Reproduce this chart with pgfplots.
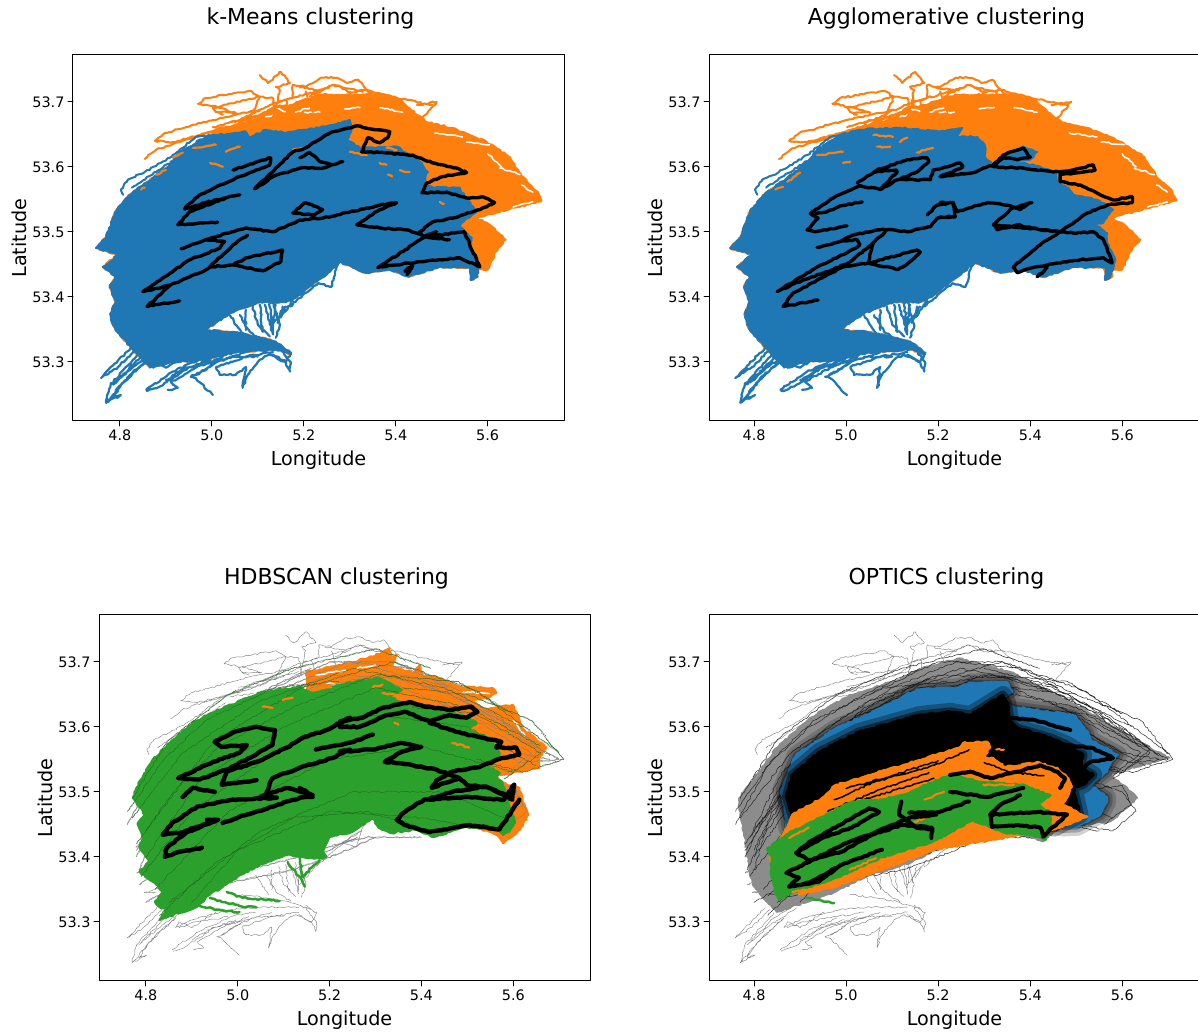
\documentclass[border=0pt]{standalone}
\usepackage{pgfplots}
\usepackage{pgfplotstable}
\usepackage{fontspec}
\setmainfont{DejaVu Sans}
\pgfplotsset{compat=1.18}
\usetikzlibrary{decorations.pathmorphing}
\definecolor{mblue}{HTML}{1F77B4}
\definecolor{morange}{HTML}{FF7F0E}
\definecolor{mgreen}{HTML}{2CA02C}
\pgfplotstableread[row sep=\\]{x y\\
4.748 53.475\\4.770 53.491\\4.791 53.531\\4.822 53.557\\4.872 53.583\\4.909 53.603\\4.937 53.622\\4.987 53.645\\5.039 53.661\\5.104 53.675\\5.133 53.691\\5.170 53.695\\5.237 53.711\\5.333 53.711\\5.365 53.711\\5.409 53.703\\5.446 53.680\\5.470 53.668\\5.522 53.660\\5.561 53.649\\5.598 53.638\\5.648 53.615\\5.674 53.585\\5.709 53.561\\5.717 53.548\\5.663 53.538\\5.598 53.526\\5.576 53.521\\5.598 53.514\\5.639 53.488\\5.617 53.469\\5.600 53.442\\5.578 53.442\\5.578 53.431\\5.563 53.426\\5.561 53.445\\5.494 53.446\\5.428 53.431\\5.385 53.442\\5.335 53.437\\5.307 53.445\\5.278 53.454\\5.257 53.439\\5.226 53.423\\5.191 53.403\\5.161 53.392\\5.104 53.392\\5.039 53.375\\4.987 53.349\\5.046 53.346\\5.104 53.337\\5.139 53.331\\5.172 53.312\\5.139 53.319\\5.046 53.314\\4.987 53.303\\4.915 53.300\\4.865 53.292\\4.824 53.322\\4.796 53.345\\4.785 53.357\\4.780 53.375\\4.791 53.392\\4.778 53.415\\4.791 53.431\\4.763 53.446\\4.796 53.465\\4.748 53.475\\
}\tBody
\pgfplotstableread[row sep=\\]{x y\\
4.748 53.475\\4.770 53.491\\4.791 53.531\\4.822 53.557\\4.872 53.583\\4.909 53.603\\4.930 53.623\\4.987 53.646\\5.074 53.654\\5.083 53.645\\5.117 53.657\\5.161 53.652\\5.237 53.661\\5.300 53.672\\5.304 53.657\\5.294 53.641\\5.322 53.629\\5.402 53.631\\5.452 53.608\\5.470 53.592\\5.459 53.575\\5.481 53.568\\5.539 53.568\\5.550 53.554\\5.576 53.531\\5.546 53.515\\5.539 53.508\\5.565 53.491\\5.561 53.480\\5.578 53.454\\5.578 53.431\\5.563 53.426\\5.561 53.445\\5.494 53.446\\5.428 53.431\\5.385 53.442\\5.335 53.437\\5.307 53.445\\5.278 53.454\\5.257 53.439\\5.226 53.423\\5.191 53.403\\5.161 53.392\\5.104 53.392\\5.039 53.375\\4.987 53.349\\5.046 53.346\\5.104 53.337\\5.139 53.331\\5.172 53.312\\5.139 53.319\\5.046 53.314\\4.987 53.303\\4.915 53.300\\4.865 53.292\\4.824 53.322\\4.796 53.345\\4.785 53.357\\4.780 53.375\\4.791 53.392\\4.778 53.415\\4.791 53.431\\4.763 53.446\\4.796 53.465\\4.748 53.475\\
}\tBlueA
\pgfplotstableread[row sep=\\]{x y\\
4.748 53.475\\4.770 53.491\\4.791 53.531\\4.822 53.557\\4.872 53.583\\4.909 53.603\\4.937 53.626\\4.987 53.649\\5.030 53.657\\5.117 53.660\\5.204 53.654\\5.252 53.660\\5.241 53.646\\5.285 53.646\\5.302 53.631\\5.302 53.615\\5.320 53.603\\5.341 53.618\\5.385 53.631\\5.415 53.623\\5.400 53.611\\5.372 53.608\\5.422 53.600\\5.454 53.592\\5.459 53.575\\5.483 53.568\\5.494 53.557\\5.546 53.549\\5.580 53.534\\5.559 53.514\\5.541 53.511\\5.567 53.498\\5.567 53.483\\5.585 53.457\\5.574 53.431\\5.563 53.426\\5.563 53.446\\5.494 53.446\\5.428 53.431\\5.385 53.442\\5.335 53.437\\5.307 53.445\\5.278 53.454\\5.257 53.439\\5.226 53.423\\5.191 53.403\\5.161 53.392\\5.104 53.392\\5.039 53.375\\4.987 53.349\\5.046 53.346\\5.104 53.337\\5.139 53.331\\5.172 53.312\\5.139 53.319\\5.046 53.314\\4.987 53.303\\4.915 53.300\\4.865 53.292\\4.824 53.322\\4.796 53.345\\4.785 53.357\\4.780 53.375\\4.791 53.392\\4.778 53.415\\4.791 53.431\\4.763 53.446\\4.796 53.465\\4.748 53.475\\
}\tBlueB
\pgfplotstableread[row sep=\\]{x y\\
5.133 53.392\\5.148 53.357\\5.139 53.337\\nan nan\\5.115 53.388\\5.126 53.362\\5.133 53.342\\nan nan\\5.089 53.385\\5.100 53.357\\5.126 53.339\\nan nan\\5.061 53.372\\5.083 53.346\\5.117 53.331\\nan nan\\5.074 53.380\\5.074 53.349\\nan nan\\5.154 53.385\\5.143 53.360\\nan nan\\5.176 53.395\\5.150 53.368\\nan nan\\
5.039 53.372\\5.067 53.342\\nan nan\\5.126 53.391\\5.133 53.346\\nan nan\\5.139 53.388\\5.133 53.357\\5.161 53.385\\nan nan\\5.104 53.388\\5.111 53.346\\nan nan\\5.204 53.406\\5.170 53.385\\nan nan\\
4.824 53.322\\4.759 53.275\\4.796 53.292\\4.835 53.319\\nan nan\\4.843 53.314\\4.780 53.265\\4.770 53.237\\4.802 53.249\\4.785 53.245\\4.807 53.268\\4.865 53.306\\nan nan\\
4.859 53.255\\4.887 53.262\\4.915 53.275\\4.948 53.291\\4.996 53.303\\nan nan\\4.904 53.257\\4.926 53.260\\4.911 53.269\\4.965 53.291\\5.024 53.308\\nan nan\\
5.002 53.249\\4.965 53.275\\4.954 53.277\\4.974 53.283\\5.009 53.299\\nan nan\\5.009 53.291\\5.017 53.280\\5.052 53.280\\5.074 53.292\\5.067 53.260\\5.078 53.280\\5.104 53.303\\5.126 53.311\\5.161 53.299\\5.170 53.285\\5.172 53.299\\5.148 53.322\\nan nan\\
4.865 53.291\\4.872 53.300\\4.900 53.291\\4.952 53.315\\nan nan\\5.278 53.454\\5.270 53.442\\5.259 53.415\\5.231 53.421\\5.204 53.406\\nan nan\\
4.865 53.292\\4.915 53.307\\4.987 53.319\\5.061 53.323\\5.133 53.322\\nan nan\\4.872 53.291\\4.909 53.300\\4.965 53.306\\5.039 53.315\\nan nan\\4.900 53.272\\4.944 53.291\\5.002 53.300\\5.046 53.308\\5.100 53.308\\nan nan\\
4.785 53.265\\4.843 53.306\\4.887 53.326\\nan nan\\4.770 53.237\\4.822 53.280\\4.865 53.306\\nan nan\\4.791 53.268\\4.835 53.295\\4.893 53.322\\nan nan\\4.857 53.257\\4.915 53.285\\4.980 53.306\\nan nan\\4.965 53.280\\5.009 53.299\\5.074 53.315\\nan nan\\5.009 53.292\\5.074 53.308\\5.133 53.315\\nan nan\\5.133 53.311\\5.161 53.300\\5.172 53.314\\5.148 53.326\\nan nan\\5.009 53.342\\5.061 53.337\\5.111 53.331\\5.161 53.319\\nan nan\\
4.835 53.352\\4.796 53.345\\4.824 53.346\\nan nan\\4.813 53.368\\4.785 53.357\\4.802 53.365\\nan nan\\4.807 53.388\\4.780 53.375\\4.796 53.383\\nan nan\\4.807 53.414\\4.778 53.415\\4.796 53.423\\nan nan\\
}\tFing
\pgfplotstableread[row sep=\\]{x y\\
4.854 53.612\\4.878 53.626\\4.922 53.637\\4.970 53.646\\5.009 53.657\\5.052 53.665\\5.083 53.675\\nan nan\\
4.876 53.640\\4.898 53.652\\4.944 53.661\\5.002 53.672\\5.052 53.680\\5.104 53.688\\nan nan\\4.876 53.640\\4.915 53.638\\4.974 53.649\\5.024 53.657\\nan nan\\
5.009 53.684\\5.052 53.683\\5.015 53.691\\4.970 53.697\\4.987 53.706\\5.083 53.717\\5.104 53.708\\5.061 53.700\\5.002 53.691\\5.009 53.684\\5.024 53.680\\nan nan\\
5.104 53.741\\5.122 53.729\\5.150 53.746\\5.170 53.729\\5.139 53.723\\5.148 53.718\\5.143 53.700\\5.176 53.706\\5.176 53.726\\5.204 53.723\\5.237 53.737\\5.272 53.737\\5.294 53.729\\5.318 53.734\\5.337 53.718\\5.300 53.715\\5.267 53.726\\5.235 53.718\\5.191 53.722\\nan nan\\
5.133 53.706\\5.104 53.708\\5.083 53.675\\nan nan\\5.446 53.695\\5.489 53.700\\5.452 53.669\\nan nan\\5.143 53.700\\5.133 53.675\\nan nan\\5.337 53.718\\5.365 53.700\\nan nan\\
5.039 53.669\\5.083 53.675\\5.133 53.685\\nan nan\\5.002 53.661\\5.061 53.672\\5.126 53.695\\5.176 53.706\\nan nan\\4.974 53.649\\5.039 53.661\\5.104 53.680\\5.148 53.695\\nan nan\\5.133 53.706\\5.139 53.680\\nan nan\\5.161 53.703\\5.170 53.669\\nan nan\\5.204 53.716\\5.220 53.684\\nan nan\\5.176 53.706\\5.237 53.718\\nan nan\\5.213 53.708\\5.263 53.726\\5.328 53.715\\nan nan\\5.337 53.718\\5.402 53.706\\5.480 53.695\\nan nan\\
}\tTop
\pgfplotstableread[row sep=\\]{x y\\
4.807 53.557\\4.802 53.565\\4.817 53.580\\4.854 53.592\\4.893 53.608\\4.915 53.618\\4.965 53.646\\5.061 53.652\\nan nan\\4.826 53.568\\4.865 53.586\\4.920 53.611\\4.974 53.637\\nan nan\\
}\tTopB
\pgfplotstableread[row sep=\\]{x y\\
5.485 53.652\\5.545 53.646\\nan nan\\5.554 53.638\\5.604 53.634\\nan nan\\5.626 53.598\\5.670 53.588\\nan nan\\5.674 53.572\\5.698 53.561\\nan nan\\5.655 53.538\\5.698 53.546\\nan nan\\5.202 53.684\\5.235 53.684\\nan nan\\5.252 53.714\\5.285 53.714\\nan nan\\5.365 53.691\\5.415 53.684\\nan nan\\5.117 53.677\\5.133 53.680\\nan nan\\5.182 53.684\\5.213 53.691\\nan nan\\5.289 53.689\\5.322 53.691\\nan nan\\5.140 53.690\\5.160 53.685\\nan nan\\5.600 53.620\\5.630 53.600\\nan nan\\
}\tSlits
\pgfplotstableread[row sep=\\]{x y\\
4.959 53.629\\5.009 53.634\\nan nan\\4.915 53.614\\4.937 53.622\\nan nan\\4.846 53.565\\4.854 53.568\\nan nan\\4.878 53.588\\4.900 53.595\\nan nan\\5.030 53.623\\5.061 53.631\\nan nan\\4.996 53.606\\5.024 53.600\\nan nan\\5.176 53.626\\5.198 53.629\\nan nan\\5.300 53.623\\5.337 53.618\\nan nan\\5.365 53.606\\5.380 53.603\\nan nan\\5.409 53.595\\5.430 53.592\\nan nan\\5.380 53.629\\5.402 53.626\\nan nan\\5.383 53.588\\5.392 53.585\\nan nan\\5.496 53.546\\5.505 53.543\\nan nan\\
}\tFleckA
\pgfplotstableread[row sep=\\]{x y\\
5.059 53.649\\5.102 53.646\\nan nan\\5.067 53.631\\5.096 53.631\\nan nan\\5.154 53.622\\5.189 53.629\\nan nan\\4.993 53.606\\5.009 53.608\\nan nan\\4.937 53.618\\4.993 53.623\\nan nan\\4.872 53.577\\4.900 53.591\\nan nan\\4.846 53.565\\4.863 53.569\\nan nan\\5.117 53.638\\5.133 53.645\\nan nan\\
}\tFleckB
\pgfplotstableread[row sep=\\]{x y\\
5.046 53.595\\5.104 53.609\\5.128 53.614\\5.126 53.603\\5.061 53.585\\4.974 53.557\\4.943 53.538\\4.941 53.535\\4.987 53.545\\5.030 53.552\\5.061 53.557\\nan nan\\
5.013 53.515\\4.926 53.511\\4.952 53.531\\5.030 53.552\\nan nan\\
5.093 53.566\\5.133 53.585\\5.191 53.598\\5.241 53.598\\5.261 53.603\\5.285 53.608\\nan nan\\
5.093 53.566\\5.176 53.623\\5.204 53.629\\5.220 53.637\\5.263 53.654\\5.317 53.663\\5.359 53.657\\5.387 53.654\\5.383 53.645\\5.365 53.637\\5.339 53.645\\5.326 53.623\\5.365 53.622\\5.437 53.618\\5.480 53.606\\5.533 53.598\\5.554 53.591\\5.502 53.585\\5.467 53.575\\5.457 53.560\\5.511 53.561\\5.554 53.552\\5.589 53.554\\5.615 53.545\\5.583 53.534\\5.524 53.521\\5.480 53.515\\5.452 53.500\\5.459 53.492\\5.489 53.500\\nan nan\\
5.191 53.614\\5.213 53.622\\5.235 53.608\\5.261 53.603\\nan nan\\
5.402 53.545\\5.365 53.534\\5.315 53.511\\5.365 53.506\\5.424 53.503\\5.467 53.492\\5.517 53.488\\nan nan\\
5.361 53.445\\5.420 53.472\\5.463 53.492\\5.550 53.500\\5.561 53.480\\5.583 53.446\\5.539 53.460\\5.452 53.454\\5.398 53.449\\5.361 53.445\\nan nan\\5.424 53.434\\5.437 53.449\\5.420 53.439\\nan nan\\
4.987 53.488\\5.074 53.506\\5.133 53.500\\5.191 53.518\\5.241 53.521\\5.365 53.541\\5.402 53.545\\nan nan\\
5.176 53.529\\5.204 53.545\\5.241 53.534\\5.223 53.526\\5.176 53.529\\nan nan\\
4.933 53.474\\4.987 53.488\\5.028 53.485\\5.017 53.475\\4.952 53.457\\4.850 53.408\\4.909 53.418\\4.974 53.437\\4.996 53.446\\5.046 53.480\\5.078 53.495\\nan nan\\
5.154 53.472\\5.074 53.460\\5.046 53.449\\5.111 53.440\\5.150 53.454\\5.154 53.472\\nan nan\\5.046 53.449\\4.996 53.446\\nan nan\\4.909 53.418\\4.859 53.385\\4.930 53.394\\nan nan\\
}\tBlackA
\pgfplotstableread[row sep=\\]{x y\\
5.024 53.575\\5.067 53.595\\5.133 53.611\\5.176 53.614\\5.180 53.608\\5.154 53.592\\5.111 53.580\\5.074 53.565\\5.030 53.571\\4.972 53.552\\4.922 53.528\\4.959 53.531\\4.987 53.540\\5.035 53.546\\nan nan\\
5.074 53.565\\5.111 53.592\\5.109 53.595\\5.059 53.592\\nan nan\\
4.922 53.528\\4.939 53.521\\4.915 53.503\\4.933 53.500\\5.002 53.509\\nan nan\\
5.111 53.580\\5.183 53.580\\5.189 53.595\\5.220 53.600\\5.248 53.606\\5.254 53.600\\5.226 53.591\\5.204 53.585\\5.276 53.591\\5.298 53.598\\5.320 53.603\\5.341 53.618\\5.385 53.629\\5.400 53.615\\5.372 53.611\\5.341 53.614\\5.328 53.606\\5.320 53.600\\5.385 53.598\\5.450 53.592\\5.494 53.595\\5.537 53.603\\5.541 53.595\\5.515 53.592\\5.465 53.588\\5.465 53.577\\5.509 53.572\\5.552 53.557\\5.580 53.549\\5.622 53.554\\5.622 53.545\\5.567 53.541\\5.524 53.529\\5.465 53.500\\5.422 53.480\\5.363 53.446\\5.372 53.437\\5.406 53.445\\5.459 53.452\\5.509 53.457\\5.559 53.460\\5.578 53.452\\5.559 53.488\\5.537 53.500\\5.494 53.498\\5.465 53.500\\5.320 53.511\\5.328 53.503\\5.372 53.511\\5.422 53.503\\5.472 53.500\\nan nan\\
5.404 53.545\\5.363 53.537\\5.320 53.511\\nan nan\\
5.204 53.545\\5.233 53.545\\5.241 53.531\\5.307 53.545\\5.350 53.541\\5.378 53.534\\5.400 53.545\\nan nan\\5.204 53.523\\5.237 53.523\\nan nan\\
5.176 53.526\\5.198 53.541\\5.233 53.545\\5.237 53.523\\5.198 53.521\\5.183 53.508\\5.133 53.500\\5.080 53.504\\5.015 53.495\\4.987 53.485\\4.937 53.476\\nan nan\\
4.987 53.485\\5.024 53.488\\5.030 53.480\\5.002 53.468\\4.937 53.446\\4.850 53.408\\4.907 53.426\\4.972 53.442\\5.009 53.454\\5.059 53.483\\5.085 53.500\\nan nan\\
5.059 53.483\\5.048 53.452\\5.154 53.472\\5.161 53.469\\5.135 53.452\\5.113 53.442\\5.048 53.452\\4.993 53.446\\4.972 53.438\\4.885 53.406\\4.863 53.385\\4.907 53.391\\4.939 53.395\\nan nan\\5.428 53.437\\5.415 53.431\\5.437 53.445\\nan nan\\
}\tBlackB
\pgfplotstableread[row sep=\\]{x y\\
4.772 53.491\\4.780 53.506\\4.815 53.549\\4.852 53.575\\4.902 53.606\\4.946 53.622\\5.048 53.652\\5.135 53.661\\5.163 53.652\\5.244 53.668\\5.309 53.675\\5.357 53.657\\5.330 53.646\\5.357 53.637\\5.439 53.629\\5.498 53.614\\5.520 53.606\\5.498 53.595\\5.548 53.583\\5.563 53.568\\5.570 53.557\\5.541 53.541\\5.570 53.529\\5.563 53.521\\5.576 53.515\\5.585 53.491\\5.604 53.454\\5.591 53.439\\5.578 53.434\\5.561 53.445\\5.494 53.446\\5.428 53.431\\5.385 53.442\\5.335 53.437\\5.307 53.445\\5.294 53.460\\5.250 53.439\\5.200 53.431\\5.185 53.408\\5.193 53.400\\5.172 53.398\\5.107 53.403\\5.048 53.388\\5.004 53.372\\4.967 53.354\\4.939 53.342\\4.911 53.323\\4.837 53.306\\4.830 53.303\\4.846 53.318\\4.830 53.323\\4.820 53.331\\4.837 53.345\\4.820 53.360\\4.787 53.377\\4.809 53.395\\4.787 53.414\\4.793 53.431\\4.783 53.452\\4.798 53.465\\4.772 53.491\\
}\tGreenC
\pgfplotstableread[row sep=\\]{x y\\
4.976 53.346\\5.011 53.337\\5.091 53.332\\nan nan\\4.939 53.337\\5.011 53.323\\5.041 53.322\\nan nan\\4.911 53.326\\4.954 53.319\\5.004 53.315\\nan nan\\5.109 53.392\\5.141 53.362\\5.146 53.354\\nan nan\\5.135 53.398\\5.141 53.369\\5.163 53.385\\5.178 53.395\\nan nan\\
}\tGreenFing
\pgfplotstableread[row sep=\\]{x y\\
5.150 53.684\\5.244 53.698\\5.294 53.708\\5.330 53.721\\5.335 53.711\\5.315 53.708\\5.337 53.708\\5.346 53.711\\5.337 53.692\\5.385 53.683\\5.396 53.695\\5.402 53.680\\5.439 53.675\\5.472 53.665\\5.487 53.661\\5.554 53.660\\5.563 53.652\\5.548 53.645\\5.511 53.641\\5.533 53.626\\5.598 53.634\\5.609 53.618\\5.620 53.598\\5.672 53.568\\5.657 53.552\\5.657 53.537\\5.613 53.531\\5.563 53.526\\5.570 53.515\\5.613 53.506\\5.620 53.488\\5.633 53.465\\5.615 53.442\\5.578 53.421\\5.563 53.434\\5.409 53.472\\5.191 53.641\\5.150 53.657\\5.150 53.684\\
}\tOrangeC
\pgfplotstableread[row sep=\\]{x y\\
5.489 53.654\\5.548 53.651\\nan nan\\5.170 53.680\\5.235 53.687\\nan nan\\5.193 53.668\\5.222 53.665\\nan nan\\5.600 53.610\\5.625 53.585\\nan nan\\5.260 53.690\\5.300 53.695\\nan nan\\
}\tSlitsC
\pgfplotstableread[row sep=\\]{x y\\
5.163 53.657\\5.204 53.661\\nan nan\\5.054 53.631\\5.076 53.629\\nan nan\\5.098 53.641\\5.120 53.645\\nan nan\\5.467 53.575\\5.504 53.568\\nan nan\\5.294 53.661\\5.315 53.665\\nan nan\\5.315 53.652\\5.343 53.649\\nan nan\\5.341 53.606\\5.350 53.603\\nan nan\\
}\tFleckC
\pgfplotstableread[row sep=\\]{x y\\
5.081 53.595\\5.041 53.600\\4.989 53.591\\4.950 53.577\\4.965 53.569\\5.020 53.572\\5.004 53.560\\4.946 53.546\\4.870 53.521\\4.917 53.519\\4.976 53.534\\5.026 53.552\\5.076 53.572\\5.081 53.595\\nan nan\\
5.041 53.518\\4.965 53.511\\4.976 53.531\\5.041 53.546\\5.107 53.568\\5.141 53.583\\5.193 53.595\\5.244 53.614\\5.222 53.608\\5.272 53.614\\5.315 53.629\\5.374 53.638\\5.411 53.631\\5.461 53.626\\5.509 53.631\\5.522 53.623\\5.498 53.614\\5.461 53.618\\5.418 53.608\\5.367 53.623\\5.324 53.618\\5.265 53.600\\5.222 53.600\\nan nan\\
4.880 53.492\\4.902 53.506\\4.950 53.500\\nan nan\\
5.063 53.500\\5.076 53.521\\5.135 53.537\\5.206 53.552\\5.244 53.565\\5.222 53.562\\5.294 53.565\\5.352 53.575\\5.400 53.569\\5.359 53.562\\5.320 53.546\\5.381 53.541\\5.433 53.534\\5.483 53.521\\nan nan\\
5.135 53.506\\5.163 53.495\\5.107 53.506\\5.048 53.492\\5.085 53.491\\nan nan\\
5.418 53.606\\5.476 53.592\\5.533 53.583\\5.574 53.577\\5.563 53.568\\5.606 53.568\\5.613 53.557\\5.576 53.552\\5.526 53.538\\5.467 53.531\\5.433 53.518\\5.422 53.506\\5.483 53.521\\5.498 53.511\\5.548 53.506\\5.598 53.491\\5.602 53.511\\nan nan\\
5.294 53.588\\5.265 53.580\\5.222 53.572\\5.170 53.565\\nan nan\\
5.411 53.488\\5.467 53.500\\5.541 53.508\\5.598 53.488\\nan nan\\
5.363 53.449\\5.346 53.457\\5.369 53.472\\5.406 53.488\\5.504 53.492\\5.580 53.488\\5.602 53.511\\nan nan\\5.363 53.449\\5.417 53.438\\5.504 53.449\\5.570 53.442\\5.613 53.488\\nan nan\\
4.837 53.434\\4.857 53.452\\4.911 53.477\\4.989 53.488\\5.085 53.491\\nan nan\\
4.837 53.434\\4.874 53.437\\4.911 53.446\\4.957 53.457\\4.933 53.457\\nan nan\\
4.967 53.452\\5.020 53.465\\5.076 53.477\\5.135 53.491\\5.163 53.492\\nan nan\\
4.922 53.414\\4.874 53.408\\4.841 53.400\\4.846 53.414\\4.889 53.438\\4.957 53.457\\nan nan\\
}\tBlackC
\pgfplotstableread[row sep=\\]{x y\\
4.767 53.491\\4.848 53.568\\4.920 53.614\\5.007 53.649\\5.109 53.672\\5.165 53.691\\5.246 53.706\\5.357 53.685\\5.444 53.654\\5.515 53.629\\5.589 53.598\\5.661 53.568\\5.704 53.552\\5.633 53.538\\5.574 53.526\\5.602 53.511\\5.633 53.491\\5.611 53.475\\5.574 53.454\\5.465 53.445\\5.428 53.423\\5.372 53.434\\5.276 53.457\\5.226 53.423\\5.209 53.418\\5.165 53.398\\5.109 53.383\\5.050 53.372\\4.978 53.346\\4.920 53.331\\4.848 53.315\\4.826 53.331\\4.796 53.357\\4.789 53.377\\4.783 53.414\\4.774 53.445\\4.767 53.475\\4.767 53.491\\
}\tGrayD
\pgfplotstableread[row sep=\\]{x y\\
4.859 53.503\\4.891 53.557\\4.978 53.598\\5.043 53.618\\5.109 53.641\\5.152 53.657\\5.246 53.661\\5.270 53.668\\5.350 53.669\\5.361 53.654\\5.335 53.641\\5.363 53.631\\5.494 53.618\\5.526 53.592\\5.531 53.580\\5.591 53.557\\5.580 53.549\\5.567 53.531\\5.531 53.511\\5.567 53.492\\5.567 53.484\\5.552 53.465\\5.502 53.446\\5.472 53.445\\5.409 53.457\\4.872 53.444\\4.859 53.503\\
}\tBlueD
\pgfplotstableread[row sep=\\]{x y\\
4.870 53.492\\4.883 53.526\\4.941 53.561\\5.028 53.592\\5.109 53.608\\5.159 53.618\\5.226 53.623\\5.270 53.618\\5.307 53.634\\5.341 53.649\\5.350 53.637\\5.357 53.608\\5.372 53.598\\5.444 53.583\\5.480 53.572\\5.515 53.557\\5.509 53.537\\5.537 53.526\\5.515 53.511\\5.494 53.506\\5.507 53.465\\5.452 53.445\\5.191 53.488\\4.974 53.480\\4.887 53.454\\4.870 53.492\\
}\tCoreD
\pgfplotstableread[row sep=\\]{x y\\
4.833 53.398\\4.872 53.445\\4.883 53.465\\4.948 53.491\\4.978 53.511\\5.050 53.526\\5.109 53.538\\5.196 53.557\\5.246 53.568\\5.254 53.575\\5.307 53.577\\5.313 53.568\\5.298 53.552\\5.320 53.552\\5.346 53.538\\5.415 53.546\\5.459 53.537\\5.483 53.521\\5.491 53.508\\5.472 53.480\\5.524 53.462\\5.480 53.449\\5.452 53.442\\5.191 53.411\\4.978 53.354\\4.898 53.342\\4.833 53.398\\
}\tOrangeD
\pgfplotstableread[row sep=\\]{x y\\
4.828 53.411\\4.870 53.434\\4.957 53.465\\5.013 53.485\\5.078 53.488\\5.122 53.495\\5.226 53.526\\5.298 53.515\\5.385 53.511\\5.400 53.506\\5.444 53.495\\5.415 53.480\\5.444 53.468\\5.444 53.445\\5.433 53.426\\5.417 53.431\\5.372 53.437\\5.346 53.437\\5.313 53.446\\5.274 53.457\\5.196 53.426\\5.165 53.418\\5.078 53.400\\5.007 53.377\\4.978 53.368\\4.883 53.345\\4.854 53.334\\4.843 53.357\\4.837 53.380\\4.839 53.398\\4.828 53.411\\
}\tGreenD
\pgfplotstableread[row sep=\\]{x y\\
5.007 53.380\\5.065 53.398\\nan nan\\4.883 53.346\\4.978 53.357\\nan nan\\4.876 53.429\\4.919 53.445\\nan nan\\5.148 53.454\\5.191 53.465\\nan nan\\5.298 53.511\\5.365 53.511\\nan nan\\5.170 53.488\\5.213 53.500\\nan nan\\5.326 53.565\\5.343 53.565\\nan nan\\
}\tFleckD
\pgfplotstableread[row sep=\\]{x y\\
4.913 53.337\\4.974 53.329\\nan nan\\
}\tGreenFingD
\pgfplotstableread[row sep=\\]{x y\\
4.876 53.354\\4.919 53.360\\4.978 53.383\\nan nan\\
4.870 53.375\\4.898 53.385\\4.948 53.403\\5.007 53.423\\5.065 53.438\\5.137 53.460\\5.196 53.465\\nan nan\\
4.891 53.406\\4.948 53.429\\5.013 53.445\\5.072 53.469\\5.050 53.475\\4.920 53.423\\4.891 53.406\\nan nan\\
4.872 53.375\\4.898 53.368\\4.876 53.354\\4.941 53.362\\4.991 53.388\\5.078 53.411\\nan nan\\
4.891 53.406\\4.920 53.395\\4.991 53.408\\5.056 53.434\\5.122 53.449\\5.187 53.445\\5.185 53.429\\nan nan\\
5.120 53.485\\5.115 53.465\\5.152 53.445\\5.180 53.442\\nan nan\\
5.137 53.468\\5.202 53.469\\5.267 53.485\\nan nan\\
5.298 53.614\\5.357 53.614\\5.406 53.611\\5.487 53.595\\nan nan\\
5.444 53.575\\5.531 53.568\\5.567 53.557\\5.580 53.552\\5.531 53.546\\5.509 53.531\\nan nan\\
5.226 53.526\\5.270 53.531\\5.313 53.521\\5.372 53.531\\5.422 53.541\\5.459 53.531\\5.476 53.521\\5.465 53.506\\nan nan\\
5.226 53.500\\5.307 53.492\\5.385 53.506\\nan nan\\
5.378 53.495\\5.335 53.480\\5.313 53.465\\5.317 53.446\\5.372 53.449\\5.422 53.445\\5.428 53.431\\5.450 53.446\\5.480 53.465\\nan nan\\
5.313 53.465\\5.415 53.469\\5.480 53.465\\nan nan\\
}\tBlackD
\pgfplotstableread[row sep=\\]{x y\\
4.974 53.488\\5.061 53.515\\5.191 53.541\\5.267 53.565\\nan nan\\4.909 53.445\\5.039 53.488\\5.191 53.521\\nan nan\\4.960 53.470\\5.080 53.505\\5.180 53.530\\nan nan\\5.000 53.505\\5.100 53.525\\5.200 53.548\\nan nan\\4.870 53.400\\4.950 53.420\\nan nan\\5.300 53.545\\5.360 53.530\\5.430 53.525\\nan nan\\
}\tInOrange
\pgfplotstableread[row sep=\\]{x y\\
4.77 53.46\\4.88 53.56\\5.05 53.64\\5.25 53.69\\5.45 53.66\\5.62 53.60\\nan nan\\
4.80 53.40\\4.92 53.52\\5.10 53.60\\5.30 53.66\\5.50 53.63\\5.66 53.57\\nan nan\\
4.79 53.37\\4.90 53.47\\5.08 53.56\\5.28 53.62\\5.50 53.60\\5.65 53.54\\nan nan\\
4.77 53.49\\4.85 53.58\\4.98 53.65\\5.12 53.69\\5.30 53.72\\5.42 53.69\\nan nan\\
4.80 53.44\\4.95 53.58\\5.14 53.66\\5.34 53.70\\5.52 53.655\\5.70 53.56\\nan nan\\
4.82 53.35\\4.98 53.47\\5.20 53.55\\5.40 53.57\\5.60 53.53\\nan nan\\
4.85 53.33\\5.05 53.44\\5.25 53.50\\5.45 53.50\\5.58 53.46\\nan nan\\
4.78 53.42\\4.86 53.50\\4.96 53.57\\5.12 53.63\\5.30 53.68\\5.48 53.67\\5.60 53.62\\nan nan\\
4.83 53.31\\4.95 53.39\\5.12 53.46\\5.28 53.47\\5.38 53.45\\nan nan\\
4.90 53.33\\5.00 53.41\\5.20 53.47\\5.40 53.46\\5.55 53.44\\nan nan\\
4.76 53.47\\4.84 53.55\\4.93 53.61\\5.08 53.66\\5.22 53.67\\nan nan\\
5.36 53.66\\5.50 53.65\\5.64 53.61\\5.71 53.55\\5.62 53.53\\5.52 53.55\\nan nan\\
5.38 53.63\\5.52 53.62\\5.66 53.56\\5.58 53.52\\nan nan\\
}\tStreak
\pgfplotstableread[row sep=\\]{x y\\
4.79 53.43\\4.86 53.53\\4.96 53.60\\5.10 53.66\\5.24 53.70\\5.38 53.69\\5.50 53.65\\nan nan\\
4.78 53.40\\4.85 53.50\\4.94 53.575\\5.06 53.635\\5.20 53.68\\5.36 53.675\\5.52 53.635\\5.62 53.585\\nan nan\\
4.80 53.41\\4.84 53.47\\4.92 53.55\\5.02 53.615\\5.16 53.66\\5.32 53.68\\5.46 53.65\\5.60 53.60\\5.68 53.555\\nan nan\\
4.785 53.38\\4.83 53.45\\4.90 53.53\\5.00 53.59\\5.14 53.645\\5.34 53.665\\5.50 53.62\\5.64 53.57\\nan nan\\
5.40 53.67\\5.52 53.63\\5.62 53.58\\5.70 53.55\\5.62 53.545\\5.55 53.56\\nan nan\\
5.30 53.69\\5.44 53.665\\5.56 53.62\\5.66 53.565\\5.60 53.53\\5.52 53.54\\nan nan\\
5.44 53.64\\5.54 53.60\\5.64 53.56\\5.58 53.525\\nan nan\\
5.50 53.60\\5.60 53.56\\5.68 53.55\\nan nan\\
5.52 53.52\\5.60 53.50\\5.63 53.47\\5.58 53.44\\5.50 53.45\\nan nan\\
5.50 53.50\\5.60 53.51\\5.62 53.48\\5.56 53.45\\nan nan\\
4.80 53.33\\4.90 53.37\\5.00 53.40\\5.10 53.42\\5.20 53.43\\nan nan\\
4.83 53.34\\4.95 53.37\\5.08 53.39\\5.18 53.41\\5.26 53.43\\nan nan\\
4.86 53.335\\4.98 53.36\\5.12 53.38\\5.22 53.405\\5.30 53.43\\nan nan\\
5.22 53.42\\5.28 53.43\\5.34 53.43\\5.40 53.43\\nan nan\\
5.15 53.40\\5.20 53.41\\5.27 53.44\\nan nan\\
4.78 53.41\\4.90 53.54\\5.04 53.63\\5.18 53.675\\nan nan\\
4.76 53.45\\4.83 53.54\\4.92 53.60\\5.04 53.65\\5.16 53.69\\nan nan\\
5.05 53.65\\5.20 53.70\\5.34 53.70\\5.46 53.66\\nan nan\\
4.80 53.38\\4.82 53.43\\4.88 53.50\\4.98 53.58\\nan nan\\
}\tHatch
\tikzset{
  jag/.style={decorate,decoration={random steps,segment length=2.6pt,amplitude=.9pt}},
  jagK/.style={decorate,decoration={random steps,segment length=3pt,amplitude=.6pt}},
  thinG/.style={no markers,line width=.5pt,color=black!50,dash pattern=on 1pt off .6pt,jag},
  thinK/.style={no markers,line width=.55pt,color=black!85,dash pattern=on 1pt off .5pt,jag},
  thinM/.style={no markers,line width=.5pt,color=mgreen!65!black,dash pattern=on 1pt off .8pt,jag},
}
\pgfplotsset{
  panel/.style={
    anchor=south west, scale only axis, width=491pt, height=366pt,
    ymin=53.209, ymax=53.772,
    xtick={4.8,5.0,5.2,5.4,5.6}, xticklabels={4.8,5.0,5.2,5.4,5.6},
    ytick={53.3,53.4,53.5,53.6,53.7}, yticklabels={53.3,53.4,53.5,53.6,53.7},
    tick align=outside, xtick pos=bottom, ytick pos=left,
    major tick length=5pt, tick style={black,line width=1pt}, axis line style={line width=1pt},
    axis on top, unbounded coords=jump, no markers, line join=round, line cap=round,
    ticklabel style={font=\fontsize{14.4}{17}\selectfont},
    every axis title/.style={at={(axis description cs:0.4837,1.082)},anchor=base,font=\fontsize{22}{26}\selectfont},
    every axis x label/.style={at={(axis description cs:0.5,-0.1225)},anchor=base,font=\fontsize{19.2}{22}\selectfont},
    every axis y label/.style={at={(axis description cs:-0.0957,0.5)},rotate=90,anchor=base,font=\fontsize{19.2}{22}\selectfont},
    xlabel={Longitude}, ylabel={Latitude},
  },
}
\begin{document}
\begin{tikzpicture}[x=1pt,y=1pt]
\pgfmathsetseed{7}
\path[use as bounding box] (0,0) rectangle (1198,1032);
% --- k-Means
\begin{axis}[panel,at={(73pt,611pt)},xmin=4.698,xmax=5.766,title={k-Means clustering}]
\addplot[morange,fill=morange,line width=2pt,jag] table {\tBody};
\addplot[white,line width=1.5pt,jag] table {\tSlits};
\addplot[morange,line width=2pt,jag] table {\tTop};
\addplot[mblue,fill=mblue,line width=2pt,jag] table {\tBlueA};
\addplot[mblue,line width=2.2pt,jag] table {\tFing};
\addplot[mblue,line width=2pt,jag] table {\tTopB};
\addplot[morange,line width=2.2pt,jag] table {\tFleckA};
\addplot[black,line width=3.4pt,jagK] table {\tBlackA};
\end{axis}
% --- Agglomerative
\begin{axis}[panel,at={(709pt,611pt)},xmin=4.702,xmax=5.769,title={Agglomerative clustering}]
\addplot[morange,fill=morange,line width=2pt,jag] table {\tBody};
\addplot[white,line width=1.5pt,jag] table {\tSlits};
\addplot[morange,line width=2pt,jag] table {\tTop};
\addplot[mblue,fill=mblue,line width=2pt,jag] table {\tBlueB};
\addplot[mblue,line width=2.2pt,jag] table {\tFing};
\addplot[mblue,line width=2pt,jag] table {\tTopB};
\addplot[morange,line width=2.2pt,jag] table {\tFleckB};
\addplot[black,line width=3.4pt,jagK] table {\tBlackB};
\end{axis}
% --- HDBSCAN
\begin{axis}[panel,at={(99pt,51pt)},xmin=4.698,xmax=5.767,title={HDBSCAN clustering}]
\addplot[thinG] table {\tTop};
\addplot[thinG] table {\tTopB};
\addplot[thinG] table {\tFing};
\addplot[thinG] table {\tHatch};
\addplot[thinG] table {\tStreak};
\addplot[morange,fill=morange,line width=2pt,jag] table {\tOrangeC};
\addplot[white,line width=1.5pt,jag] table {\tSlitsC};
\addplot[thinG] table {\tHatch};
\addplot[mgreen,fill=mgreen,line width=2.5pt,jag] table {\tGreenC};
\addplot[mgreen,line width=2.5pt,jag] table {\tGreenFing};
\addplot[thinM] table {\tStreak};
\addplot[morange,line width=2.2pt,jag] table {\tFleckC};
\addplot[black,line width=4.4pt,jagK] table {\tBlackC};
\end{axis}
% --- OPTICS
\begin{axis}[panel,at={(709pt,51pt)},xmin=4.702,xmax=5.769,title={OPTICS clustering}]
\addplot[thinG] table {\tTop};
\addplot[thinG] table {\tTopB};
\addplot[thinG] table {\tFing};
\addplot[black!45,fill=black!45,line width=1pt,jag] table {\tGrayD};
\addplot[thinK] table {\tHatch};
\addplot[thinK] table {\tStreak};
\addplot[black,opacity=.18,line width=18pt] table {\tBlueD};
\addplot[black,opacity=.22,line width=11pt] table {\tBlueD};
\addplot[black,opacity=.3,line width=5pt] table {\tBlueD};
\addplot[mblue,fill=mblue,line width=2pt,jag] table {\tBlueD};
\addplot[black,opacity=.3,line width=18pt] table {\tCoreD};
\addplot[black,opacity=.45,line width=9pt] table {\tCoreD};
\addplot[black,fill=black,line width=3pt,jag] table {\tCoreD};
\addplot[morange,fill=morange,line width=2pt,jag] table {\tOrangeD};
\addplot[black,line width=1.5pt,jag] table {\tInOrange};
\addplot[mgreen,fill=mgreen,line width=2.5pt,jag] table {\tGreenD};
\addplot[mgreen,line width=2.5pt,jag] table {\tGreenFingD};
\addplot[morange,line width=2pt,jag] table {\tFleckD};
\addplot[black,line width=4pt,jagK] table {\tBlackD};
\end{axis}
\end{tikzpicture}
\end{document}
